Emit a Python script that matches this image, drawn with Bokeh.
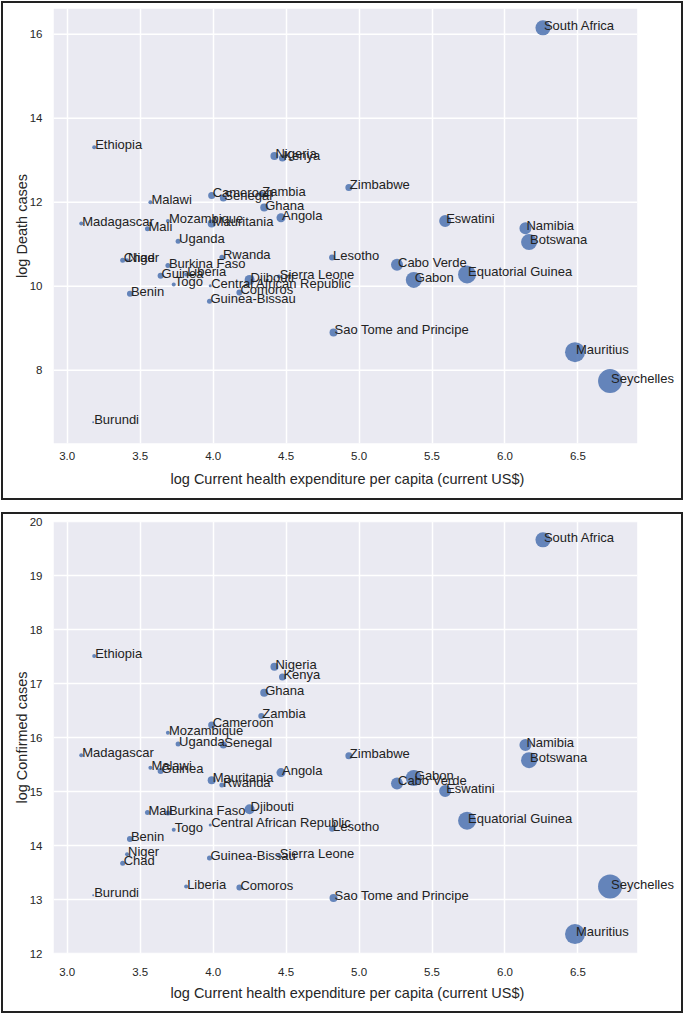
from bokeh.plotting import figure
from bokeh.models import (ColumnDataSource, FixedTicker, NumeralTickFormatter, Range1d,
                          LabelSet, BoxAnnotation, Title)
from bokeh.layouts import column
from bokeh.core.properties import value
from bokeh.embed import file_html
from bokeh.resources import INLINE

countries = ["South Africa", "Seychelles", "Mauritius", "Botswana", "Namibia",
             "Equatorial Guinea", "Eswatini", "Gabon", "Cabo Verde", "Zimbabwe",
             "Sao Tome and Principe", "Lesotho", "Angola", "Sierra Leone", "Kenya",
             "Nigeria", "Ghana", "Zambia", "Djibouti", "Comoros", "Senegal", "Rwanda",
             "Cameroon", "Mauritania", "Central African Republic", "Guinea-Bissau",
             "Liberia", "Uganda", "Togo", "Mozambique", "Burkina Faso", "Guinea",
             "Malawi", "Mali", "Benin", "Niger", "Chad", "Ethiopia", "Burundi", "Madagascar"]

log_health_exp = [6.26, 6.72, 6.48, 6.165, 6.14,
                  5.74, 5.59, 5.375, 5.26, 4.93,
                  4.825, 4.815, 4.465, 4.45, 4.475,
                  4.42, 4.35, 4.33, 4.25, 4.18, 4.07, 4.06,
                  3.99, 3.99, 3.98, 3.975,
                  3.815, 3.76, 3.73, 3.69, 3.69, 3.64,
                  3.57, 3.55, 3.43, 3.41, 3.38, 3.185, 3.178, 3.096]

log_deaths = [16.15, 7.74, 8.43, 11.05, 11.38,
              10.28, 11.55, 10.15, 10.51, 12.35,
              8.90, 10.68, 11.63, 10.23, 13.05,
              13.10, 11.87, 12.19, 10.15, 9.85, 12.10, 10.69,
              12.16, 11.49, 10.01, 9.64,
              10.28, 11.07, 10.04, 11.55, 10.49, 10.25,
              12.00, 11.37, 9.82, 10.62, 10.62, 13.31, 6.76, 11.49]

log_confirmed = [19.66, 13.24, 12.36, 15.58, 15.86,
                 14.46, 15.01, 15.25, 15.15, 15.66,
                 13.03, 14.31, 15.35, 13.81, 17.12,
                 17.31, 16.83, 16.40, 14.67, 13.22, 15.86, 15.12,
                 16.23, 15.21, 14.38, 13.77,
                 13.24, 15.88, 14.29, 16.09, 14.60, 15.38,
                 15.44, 14.61, 14.12, 13.84, 13.67, 17.51, 13.08, 15.67]

# third variable encoded by bubble size (relative units)
bubble_var = [15, 24, 20, 16, 12,
              18, 12, 16, 12, 7,
              8, 6, 9, 4, 7,
              8, 8, 6, 10, 6, 7, 5,
              7, 8, 3, 5,
              4, 5, 4, 4, 5, 6,
              4, 5, 6, 4, 5, 4, 2, 4]

x_ticks = [3.0, 3.5, 4.0, 4.5, 5.0, 5.5, 6.0, 6.5]
death_ticks = [8, 10, 12, 14, 16]
confirmed_ticks = [12, 13, 14, 15, 16, 17, 18, 19, 20]
x_label = "log Current health expenditure per capita (current US$)"

X_LO, X_HI = 2.906, 6.906          # data extent of the shaded axes area
PX_PER_UNIT = 145.0
FRAME_W = 628                      # frame runs on under the right margin
X_END = X_LO + FRAME_W / PX_PER_UNIT

FONT = "Liberation Sans"
INK = "#262626"


def make_panel(yvals, ylabel, yrange, yticks, frame_h, top_b, bottom_b,
               tick_standoff, label_standoff):
    p = figure(frame_width=FRAME_W, frame_height=frame_h,
               x_range=Range1d(X_LO, X_END), y_range=Range1d(*yrange),
               output_backend="svg", toolbar_location=None,
               min_border_left=50, min_border_right=0,
               min_border_top=top_b, min_border_bottom=bottom_b,
               styles={"border": "2px solid #222222"})
    p.background_fill_color = "white"
    p.border_fill_color = "white"
    p.outline_line_color = None
    p.add_layout(BoxAnnotation(left=X_LO, right=X_HI, fill_color="#EAEAF2",
                               fill_alpha=1.0, line_color=None, level="image"))
    p.xgrid.ticker = FixedTicker(ticks=x_ticks)
    p.xgrid.grid_line_color = "white"
    p.xgrid.grid_line_width = 1.5
    p.ygrid.visible = False
    n = len(yticks)
    p.segment(x0=[X_LO] * n, y0=yticks, x1=[X_HI] * n, y1=yticks,
              line_color="white", line_width=1.5, level="underlay")

    p.xaxis.ticker = FixedTicker(ticks=x_ticks)
    p.xaxis.formatter = NumeralTickFormatter(format="0.0")
    p.yaxis.ticker = FixedTicker(ticks=yticks)
    for ax in (p.xaxis, p.yaxis):
        ax.axis_line_color = None
        ax.major_tick_line_color = None
        ax.minor_tick_line_color = None
        ax.major_tick_out = 0
        ax.major_tick_in = 0
        ax.major_label_text_font = FONT
        ax.major_label_text_font_size = "11.5px"
        ax.major_label_text_color = INK
        ax.axis_label_text_font = FONT
        ax.axis_label_text_font_size = "14.5px"
        ax.axis_label_text_font_style = "normal"
        ax.axis_label_text_color = INK
    p.xaxis.major_label_standoff = tick_standoff
    p.yaxis.major_label_standoff = 11
    p.yaxis.axis_label_standoff = -3
    p.yaxis.axis_label = ylabel
    # x label placed under the shaded area (not the full frame)
    p.add_layout(Title(text=x_label, align="left", offset=117,
                       standoff=label_standoff, text_font=FONT,
                       text_font_size="14.5px", text_font_style="normal",
                       text_color=INK), "below")

    sizes = [b * 1.0 for b in bubble_var]
    src = ColumnDataSource(dict(x=log_health_exp, y=yvals, name=countries, s=sizes))
    p.scatter(x="x", y="y", size="s", source=src, fill_color="#4C72B0",
              fill_alpha=0.85, line_color=None)
    p.add_layout(LabelSet(x="x", y="y", text="name", source=src,
                          x_offset=1, y_offset=-2,
                          text_font=value(FONT), text_font_size="13px",
                          text_color="#222222", text_align="left",
                          text_baseline="alphabetic"))
    return p


top = make_panel(log_deaths, "log Death cases", (6.255, 16.61), death_ticks,
                 431, 5, 59, 8, 12)
bottom = make_panel(log_confirmed, "log Confirmed cases", (12.0, 20.0), confirmed_ticks,
                    428, 7, 62, 14, 9)

layout = column(top, bottom, spacing=12, margin=(1, 2, 1, 1))

open("out.html", "w").write(file_html(layout, INLINE))
